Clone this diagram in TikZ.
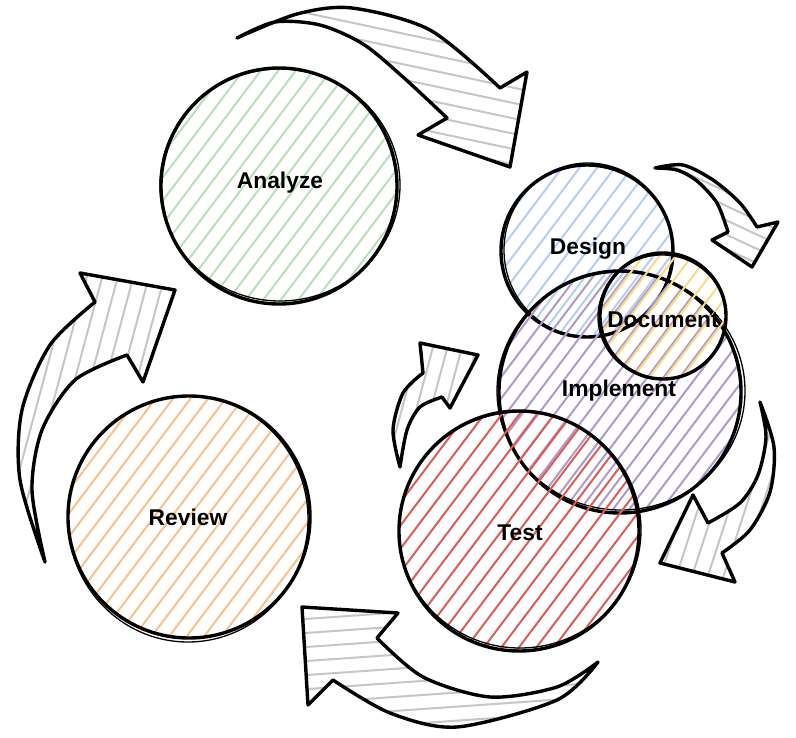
\documentclass[tikz,border=0pt]{standalone}
\usepackage{fontspec}
\setmainfont{Liberation Sans}
\definecolor{cgreen}{RGB}{185,224,190}
\definecolor{corange}{RGB}{248,194,140}
\definecolor{cblue}{RGB}{182,206,242}
\definecolor{cyellow}{RGB}{248,220,135}
\definecolor{cpurple}{RGB}{176,154,204}
\definecolor{cred}{RGB}{222,92,86}
\definecolor{cgray}{RGB}{198,198,198}
\tikzset{
  outline/.style={line width=3.4pt, line join=round, line cap=round},
  sketch/.style={line width=1.3pt},
  hatchline/.style={line width=2pt, line cap=round},
  ring/.style={circle, draw, outline, inner sep=0pt, minimum size=#1},
  lbl/.style={font=\fontsize{22.8pt}{26pt}\selectfont\bfseries, text=black, inner sep=0pt},
  blockarrow/.style={outline, fill=none},
}
% #1 cx, #2 cy, #3 half length, #4 angle (pixel frame), #5 gap, #6 colour
\newcommand\hatchfill[6]{%
  \pgfmathtruncatemacro\hn{#3/#5+1}%
  \foreach \i in {-\hn,...,\hn}{%
    \draw[hatchline,#6]
      ({#1-(\i)*(#5)*sin(#4)-(#3)*cos(#4)},{#2+(\i)*(#5)*cos(#4)-(#3)*sin(#4)}) --
      ({#1-(\i)*(#5)*sin(#4)+(#3)*cos(#4)},{#2+(\i)*(#5)*cos(#4)+(#3)*sin(#4)});
  }}
\def\arrA{plot[smooth] coordinates {(237,38) (297,14) (352,8) (430,30) (500,88)} -- (527,72) -- (510,167) -- (418,135) -- (447,118) -- plot[smooth] coordinates {(447,118) (403,77) (363,44) (320,25) (275,22) (237,38)} -- cycle}
\def\arrB{plot[smooth] coordinates {(655,168) (683,165) (713,180) (740,203) (757,227)} -- (778,222) -- (752,267) -- (712,240) -- (728,232) -- plot[smooth] coordinates {(728,232) (717,203) (697,181) (677,170) (655,168)} -- cycle}
\def\arrC{plot[smooth] coordinates {(760,402) (774,447) (770,492) (750,530) (722,553)} -- (735,582) -- (660,563) -- (693,495) -- (708,523) -- plot[smooth] coordinates {(708,523) (740,503) (758,475) (766,437) (760,402)} -- cycle}
\def\arrD{plot[smooth] coordinates {(598,662) (557,700) (457,727) (390,713) (333,680)} -- (308,705) -- (302,607) -- (398,613) -- (377,638) -- plot[smooth] coordinates {(377,638) (423,677) (490,697) (557,687) (598,662)} -- cycle}
\def\arrE{plot[smooth] coordinates {(400,467) (393,430) (403,393) (423,373)} -- (420,343) -- (478,355) -- (450,408) -- (442,397) -- plot[smooth] coordinates {(442,397) (420,407) (407,430) (400,467)} -- cycle}
\def\arrF{plot[smooth] coordinates {(45,562) (20,480) (22,410) (50,345) (95,302)} -- (80,273) -- (175,290) -- (143,382) -- (127,355) -- plot[smooth] coordinates {(127,355) (75,380) (42,430) (32,490) (45,562)} -- cycle}
\begin{document}
\begin{tikzpicture}[x=1pt,y=-1pt]
\useasboundingbox[fill=white] (0,0) rectangle (796,738);

% ---- block arrows ----
\begin{scope}\clip \arrA; \hatchfill{380}{90}{200}{12}{15}{cgray} \end{scope}
\draw[blockarrow] \arrA;
\begin{scope}\clip \arrB; \hatchfill{715}{215}{80}{25}{13}{cgray} \end{scope}
\draw[blockarrow] \arrB;
\begin{scope}\clip \arrC; \hatchfill{720}{490}{120}{-72}{15}{cgray} \end{scope}
\draw[blockarrow] \arrC;
\begin{scope}\clip \arrD; \hatchfill{450}{665}{180}{-4}{14}{cgray} \end{scope}
\draw[blockarrow] \arrD;
\begin{scope}\clip \arrE; \hatchfill{432}{405}{80}{-75}{14}{cgray} \end{scope}
\draw[blockarrow] \arrE;
\begin{scope}\clip \arrF; \hatchfill{95}{420}{170}{-75}{15}{cgray} \end{scope}
\draw[blockarrow] \arrF;

% ---- circles ----
\begin{scope}\clip (279,186) circle[radius=118pt]; \hatchfill{279}{186}{130}{-53}{14}{cgreen} \end{scope}
\node[ring=236pt] (analyze) at (279,186) {};
\draw[sketch] (280,185) circle[x radius=120pt, y radius=116pt];

\begin{scope}\clip (189,517) circle[radius=121pt]; \hatchfill{189}{517}{135}{-53}{14}{corange} \end{scope}
\node[ring=242pt] (review) at (189,517) {};
\draw[sketch] (188,519) circle[x radius=120pt, y radius=123pt];

\begin{scope}\clip (587,251) circle[radius=86pt]; \hatchfill{587}{251}{100}{-53}{14}{cblue} \end{scope}
\node[ring=172pt] (design) at (587,251) {};
\draw[sketch] (588,250) circle[x radius=84pt, y radius=87pt];

\begin{scope}\clip (620,392) circle[x radius=123pt, y radius=120pt]; \hatchfill{620}{392}{135}{-53}{13}{cpurple} \end{scope}
\node[ring=242pt] (implement) at (620,392) {};
\draw[sketch] (621,391) circle[x radius=124pt, y radius=119pt];

\begin{scope}\clip (663,316) circle[radius=63pt]; \hatchfill{663}{316}{75}{-53}{13}{cyellow} \end{scope}
\node[ring=126pt] (document) at (663,316) {};
\draw[sketch] (662,317) circle[x radius=64pt, y radius=62pt];

\begin{scope}\clip (519,531) circle[radius=120pt]; \hatchfill{519}{531}{135}{-53}{14}{cred} \end{scope}
\node[ring=240pt] (test) at (519,531) {};
\draw[sketch] (520,530) circle[x radius=121pt, y radius=118pt];

% ---- labels ----
\node[lbl] (analyzeT) at (280,183) {Analyze};
\node[lbl] (reviewT) at (188,517) {Review};
\node[lbl] (designT) at (588,249) {Design};
\node[lbl] (documentT) at (663,320) {Document};
\node[lbl] (implementT) at (619,391) {Implement};
\node[lbl] (testT) at (520,533) {Test};
\end{tikzpicture}
\end{document}
